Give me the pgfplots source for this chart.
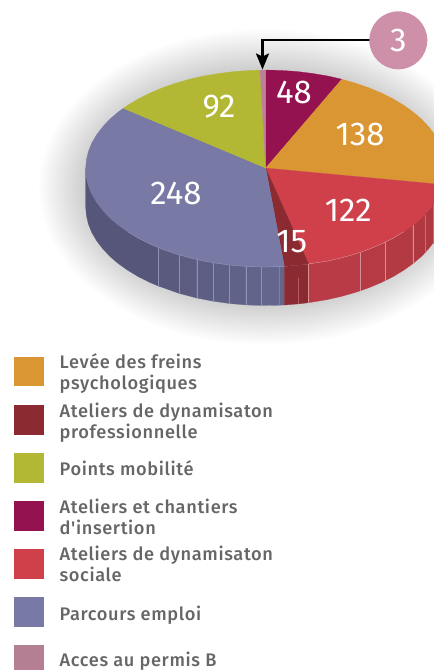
\documentclass[border=0pt]{standalone}
\usepackage{pgfplots}
\pgfplotsset{compat=1.18}
\usepackage{fontspec}
\usetikzlibrary{arrows.meta}
\setmainfont{Fira Sans}
\newfontfamily\legfont[LetterSpace=3.5,UprightFont={* Medium}]{Fira Sans}
\definecolor{cOrange}{HTML}{DA9632}
\definecolor{cCrimson}{HTML}{93124F}
\definecolor{cRed}{HTML}{CF404A}
\definecolor{cDark}{HTML}{8B2B31}
\definecolor{cPurple}{HTML}{7879A5}
\definecolor{cGreen}{HTML}{B3B834}
\definecolor{cPink}{HTML}{BC8098}
\definecolor{cLegPink}{HTML}{B47F93}
\definecolor{cCircle}{HTML}{CE90A8}
\definecolor{cText}{HTML}{666666}
\definecolor{pA}{HTML}{55567A}
\definecolor{pB}{HTML}{595A7E}
\definecolor{pC}{HTML}{5B5C80}
\definecolor{pD}{HTML}{5D5E83}
\definecolor{pE}{HTML}{5E6085}
\definecolor{pF}{HTML}{606288}
\definecolor{pG}{HTML}{62648B}
\definecolor{pH}{HTML}{64668E}
\definecolor{pI}{HTML}{63658C}
\definecolor{rA}{HTML}{B83B45}
\definecolor{rB}{HTML}{B53A44}
\definecolor{rC}{HTML}{B33A43}
\definecolor{rD}{HTML}{B03841}
\definecolor{dA}{HTML}{8B2B31}
\definecolor{sepP}{HTML}{8F90B8}
\definecolor{sepR}{HTML}{D98F96}
\tikzset{lg/.style={anchor=base west,inner sep=0pt,text=cText,font=\legfont\fontsize{18.2bp}{21bp}\selectfont},
 val/.style={anchor=base,inner sep=0pt,text=white,font=\fontsize{33bp}{33bp}\selectfont}}
\begin{document}
\begin{tikzpicture}
\path[use as bounding box] (0,0) rectangle (434bp,670bp);
\foreach \i in {0,...,23}{
  \fill[black,opacity=.008] (265bp,483bp) ellipse [x radius={(226-1.9*\i)*1bp},y radius={(158-1.7*\i)*1bp}];
}
\begin{axis}[at={(0,0)},anchor=south west,scale only axis,width=434bp,height=670bp,
  xmin=0,xmax=434,ymin=0,ymax=670,y dir=reverse,hide axis,clip=true]
% side facets, purple
\addplot[fill=pA,draw=pA,line width=.2bp] coordinates {(85.7,168.5)(86.4,177.1)(88.4,185.6)(91.8,194)(96.6,202.2)(102.6,210.1)(109.8,217.8)(118.2,225)(127.8,231.8)(138.4,238.2)(150,244)(158.3,247.5)(158.3,286)(150,282.5)(138.4,276.7)(127.8,270.3)(118.2,263.5)(109.8,256.3)(102.6,248.6)(96.6,240.7)(91.8,232.5)(88.4,224.1)(86.4,215.6)(85.7,207)} --cycle;
\addplot[fill=pB,draw=pB,line width=.2bp] coordinates {(158.3,247.5)(179.3,254.9)(179.3,293.4)(158.3,286)} --cycle;
\addplot[fill=pC,draw=pC,line width=.2bp] coordinates {(179.3,254.9)(196.7,259.5)(196.7,298)(179.3,293.4)} --cycle;
\addplot[fill=pD,draw=pD,line width=.2bp] coordinates {(196.7,259.5)(213.3,262.7)(213.3,301.2)(196.7,298)} --cycle;
\addplot[fill=pE,draw=pE,line width=.2bp] coordinates {(213.3,262.7)(229.3,265)(229.3,303.5)(213.3,301.2)} --cycle;
\addplot[fill=pF,draw=pF,line width=.2bp] coordinates {(229.3,265)(245.7,266.4)(245.7,304.9)(229.3,303.5)} --cycle;
\addplot[fill=pG,draw=pG,line width=.2bp] coordinates {(245.7,266.4)(261.3,267)(261.3,305.5)(245.7,304.9)} --cycle;
\addplot[fill=pH,draw=pH,line width=.2bp] coordinates {(261.3,267)(279.3,266.7)(279.3,305.2)(261.3,305.5)} --cycle;
\addplot[fill=pI,draw=pI,line width=.2bp] coordinates {(279.3,266.7)(284.3,266.5)(284.3,305)(279.3,305.2)} --cycle;
% side facets, dark red and red
\addplot[fill=dA,draw=dA,line width=.2bp] coordinates {(284.3,266.5)(298.3,265.4)(308.6,264.2)(308.6,302.7)(298.3,303.9)(284.3,305)} --cycle;
\addplot[fill=rA,draw=rA,line width=.2bp] coordinates {(308.6,264.2)(327.3,261.1)(341.8,257.8)(355.7,253.8)(360.3,252.3)(360.3,290.8)(355.7,292.3)(341.8,296.3)(327.3,299.6)(308.6,302.7)} --cycle;
\addplot[fill=rB,draw=rB,line width=.2bp] coordinates {(360.3,252.3)(368.9,249.2)(381.4,244)(385.3,242.1)(385.3,280.6)(381.4,282.5)(368.9,287.7)(360.3,290.8)} --cycle;
\addplot[fill=rC,draw=rC,line width=.2bp] coordinates {(385.3,242.1)(393,238.2)(403.6,231.8)(412.7,225.3)(412.7,263.8)(403.6,270.3)(393,276.7)(385.3,280.6)} --cycle;
\addplot[fill=rD,draw=rD,line width=.2bp] coordinates {(412.7,225.3)(421.6,217.8)(428.8,210.1)(434.8,202.2)(439.6,194)(443,185.6)(445,177.1)(445.7,168.5)(445.7,207)(445,215.6)(443,224.1)(439.6,232.5)(434.8,240.7)(428.8,248.6)(421.6,256.3)(412.7,263.8)} --cycle;
% facet separators
\addplot[draw=sepP,line width=.4bp] coordinates {(158.3,247.5)(158.3,286)};
\addplot[draw=sepP,line width=.4bp] coordinates {(179.3,254.9)(179.3,293.4)};
\addplot[draw=sepP,line width=.4bp] coordinates {(196.7,259.5)(196.7,298)};
\addplot[draw=sepP,line width=.4bp] coordinates {(213.3,262.7)(213.3,301.2)};
\addplot[draw=sepP,line width=.4bp] coordinates {(229.3,265)(229.3,303.5)};
\addplot[draw=sepP,line width=.4bp] coordinates {(245.7,266.4)(245.7,304.9)};
\addplot[draw=sepP,line width=.4bp] coordinates {(261.3,267)(261.3,305.5)};
\addplot[draw=sepP!60!pH,line width=.3bp] coordinates {(279.3,266.7)(279.3,305.2)};
\addplot[draw=sepR!50!dA,line width=.3bp] coordinates {(298.3,278)(298.3,303.9)};
\addplot[draw=sepR,line width=.4bp] coordinates {(308.6,264.2)(308.6,302.7)};
\addplot[draw=sepR,line width=.4bp] coordinates {(360.3,252.3)(360.3,290.8)};
\addplot[draw=sepR,line width=.4bp] coordinates {(385.3,242.1)(385.3,280.6)};
\addplot[draw=sepR,line width=.4bp] coordinates {(412.7,225.3)(412.7,263.8)};
\addplot[draw=sepR!60!rD,line width=.3bp] coordinates {(424.7,214.7)(424.7,253.2)};
\addplot[draw=sepR!60!rD,line width=.3bp] coordinates {(432.7,205.2)(432.7,243.7)};
% top slices
\addplot[fill=cCrimson,draw=cCrimson,line width=.2bp] coordinates {(265.7,168)(265.7,70)(281.4,70.4)(296.9,71.5)(312.3,73.4)(327.3,75.9)(341.8,79.2)} --cycle;
\addplot[fill=cOrange,draw=cOrange,line width=.2bp] coordinates {(265.7,168)(341.8,79.2)(355.7,83.2)(368.9,87.8)(381.4,93)(393,98.8)(403.6,105.2)(413.2,112)(421.6,119.2)(428.8,126.9)(434.8,134.8)(439.6,143)(443,151.4)(445,159.9)(445.7,168.5)(445,177.1)(443,184.6)} --cycle;
\addplot[fill=cRed,draw=cRed,line width=.2bp] coordinates {(265.7,168)(443,184.6)(439.6,194)(434.8,202.2)(428.8,210.1)(421.6,217.8)(413.2,225)(403.6,231.8)(393,238.2)(381.4,244)(368.9,249.2)(355.7,253.8)(341.8,257.8)(327.3,261.1)(308.6,263.8)} --cycle;
\addplot[fill=cDark,draw=cDark,line width=.2bp] coordinates {(265.7,168)(308.6,263.8)(296.9,265.5)(284.3,266)} --cycle;
\addplot[fill=cPurple,draw=cPurple,line width=.2bp] coordinates {(265.7,168)(284.3,266)(265.7,267)(250,266.6)(234.5,265.5)(219.1,263.6)(204.1,261.1)(189.6,257.8)(175.7,253.8)(162.5,249.2)(150,244)(138.4,238.2)(127.8,231.8)(118.2,225)(109.8,217.8)(102.6,210.1)(96.6,202.2)(91.8,194)(88.4,185.6)(86.4,177.1)(85.7,168.5)(86.4,159.9)(88.4,151.4)(91.8,143)(96.6,134.8)(102.6,126.9)(109.8,119.2)(118.2,112)(123.3,108.3)} --cycle;
\addplot[fill=cGreen,draw=cGreen,line width=.2bp] coordinates {(265.7,168)(123.3,108.3)(127.8,105.2)(138.4,98.8)(150,93)(162.5,87.8)(175.7,83.2)(189.6,79.2)(204.1,75.9)(219.1,73.4)(234.5,71.5)(250,70.4)(260,70.1)} --cycle;
\addplot[fill=cPink,draw=cPink,line width=.2bp] coordinates {(265.7,168)(260,70.1)(265.7,70)} --cycle;
% light rim
\addplot[draw=sepP,line width=.4bp] coordinates {(284.3,266)(265.7,267)(250,266.6)(234.5,265.5)(219.1,263.6)(204.1,261.1)(189.6,257.8)(175.7,253.8)(162.5,249.2)(150,244)(138.4,238.2)(127.8,231.8)};
\addplot[draw=sepR,line width=.4bp] coordinates {(308.6,263.8)(327.3,261.1)(341.8,257.8)(355.7,253.8)(368.9,249.2)(381.4,244)(393,238.2)(403.6,231.8)};
% value labels
\node[val] at (axis cs:294,103.3) {48};
\node[val] at (axis cs:360,145.3) {138};
\node[val] at (axis cs:348.3,221.7) {122};
\node[val] at (axis cs:291.7,252.7) {15};
\node[val] at (axis cs:176,204) {248};
\node[val] at (axis cs:219,117.7) {92};
% callout
\draw[line width=2.2bp,black,-{Stealth[length=16bp,width=13bp,inset=3bp]}] (axis cs:375,40.3) -- (axis cs:262.5,40.3) -- (axis cs:262.5,69.5);
\fill[cCircle] (axis cs:398.3,40.3) circle [radius=29bp];
\node[val] at (axis cs:398.3,51) {3};
% legend
\addplot[fill=cOrange,draw=none] coordinates {(14,356.7)(44,356.7)(44,386)(14,386)} --cycle;
\addplot[fill=cDark,draw=none] coordinates {(14,405)(44,405)(44,435)(14,435)} --cycle;
\addplot[fill=cGreen,draw=none] coordinates {(14,452.7)(44,452.7)(44,482.7)(14,482.7)} --cycle;
\addplot[fill=cCrimson,draw=none] coordinates {(14,500.7)(44,500.7)(44,530.7)(14,530.7)} --cycle;
\addplot[fill=cRed,draw=none] coordinates {(14,549.3)(44,549.3)(44,579)(14,579)} --cycle;
\addplot[fill=cPurple,draw=none] coordinates {(14,597.3)(44,597.3)(44,627)(14,627)} --cycle;
\addplot[fill=cLegPink,draw=none] coordinates {(14,645.3)(44,645.3)(44,675)(14,675)} --cycle;
\node[lg] at (axis cs:59.5,368.3) {Levée des freins};
\node[lg] at (axis cs:59.5,389.3) {psychologiques};
\node[lg] at (axis cs:59.5,417.3) {Ateliers de dynamisaton};
\node[lg] at (axis cs:59.5,438.3) {professionnelle};
\node[lg] at (axis cs:59.5,475) {Points mobilité};
\node[lg] at (axis cs:59.5,513.3) {Ateliers et chantiers};
\node[lg] at (axis cs:59.5,534) {d'insertion};
\node[lg] at (axis cs:59.5,560.7) {Ateliers de dynamisaton};
\node[lg] at (axis cs:59.5,581.7) {sociale};
\node[lg] at (axis cs:59.5,620) {Parcours emploi};
\node[lg] at (axis cs:59.5,666) {Acces au permis B};
\end{axis}
\end{tikzpicture}
\end{document}
